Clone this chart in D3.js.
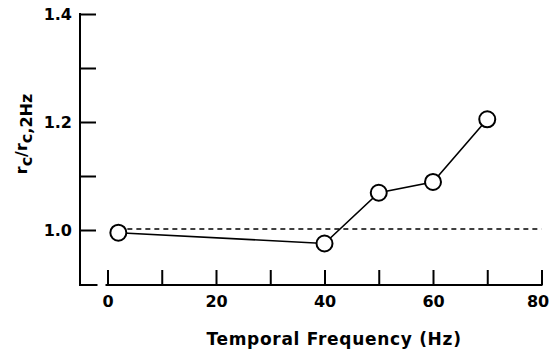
<!DOCTYPE html>
<html>
<head>
<meta charset="utf-8">
<script src="https://cdn.jsdelivr.net/npm/d3@7"></script>
<style>
  html, body { margin: 0; padding: 0; background: #fff; }
  svg { display: block; }
  text { font-family: "DejaVu Sans", sans-serif; font-weight: bold; fill: #000; }
</style>
</head>
<body>
<svg id="chart" width="551" height="354"></svg>
<script>
// ---- data ----
const frequencies = [2, 40, 50, 60, 70];
const ratios = [0.995, 0.975, 1.069, 1.089, 1.205];
const referenceLevel = 1.0;
const xTicks = [0, 10, 20, 30, 40, 50, 60, 70, 80];
const xTickLabels = ["0", "", "20", "", "40", "", "60", "", "80"];
const yTicks = [1.0, 1.1, 1.2, 1.3, 1.4];
const yTickLabels = ["1.0", "", "1.2", "", "1.4"];
const xTitle = "Temporal Frequency (Hz)";

// ---- drawing ----
const svg = d3.select("#chart");
const x = d3.scaleLinear().domain([0, 80]).range([107.5, 541.5]);
const y = d3.scaleLinear().domain([0.9, 1.4]).range([284, 14]);

const yAxisX = 80;
const xAxisY = 285;

// y axis
const yAxis = d3.axisLeft(y)
  .tickValues(yTicks)
  .tickSize(-16)
  .tickPadding(8)
  .tickFormat((d, i) => yTickLabels[i]);
const gy = svg.append("g").attr("transform", `translate(${yAxisX},0)`).call(yAxis);
gy.select(".domain").remove();
gy.selectAll(".tick line").attr("stroke", "#000").attr("stroke-width", 2);
gy.selectAll(".tick text").attr("font-size", 16).attr("font-family", "DejaVu Sans").attr("font-weight", "bold").attr("dy", "0.36em");

svg.append("path")
  .attr("d", `M${yAxisX},${y(1.4) - 1}V${xAxisY}H${x(0) - 10}`)
  .attr("fill", "none").attr("stroke", "#000").attr("stroke-width", 2);

// x axis
const xAxis = d3.axisBottom(x)
  .tickValues(xTicks)
  .tickSize(-15)
  .tickPadding(11)
  .tickFormat((d, i) => xTickLabels[i]);
const gx = svg.append("g").attr("transform", `translate(0,${xAxisY})`).call(xAxis);
gx.select(".domain").remove();
gx.selectAll(".tick line").attr("stroke", "#000").attr("stroke-width", 2);
gx.selectAll(".tick text").attr("font-size", 16).attr("font-family", "DejaVu Sans").attr("font-weight", "bold")
  .attr("dx", (d, i) => i === xTicks.length - 1 ? -4 : 0);

svg.append("line")
  .attr("x1", x(0) - 2).attr("x2", x(80) + 1)
  .attr("y1", xAxisY).attr("y2", xAxisY)
  .attr("stroke", "#000").attr("stroke-width", 2);

// dashed reference line
svg.append("line")
  .attr("x1", x(frequencies[0])).attr("x2", x(80))
  .attr("y1", y(referenceLevel) - 1).attr("y2", y(referenceLevel) - 1)
  .attr("stroke", "#000").attr("stroke-width", 1.4)
  .attr("stroke-dasharray", "5,4");

// data line
const pts = frequencies.map((f, i) => [f, ratios[i]]);
svg.append("path")
  .datum(pts)
  .attr("d", d3.line().x(d => x(d[0])).y(d => y(d[1])))
  .attr("fill", "none").attr("stroke", "#000").attr("stroke-width", 1.6);

svg.selectAll("circle.pt")
  .data(pts)
  .join("circle")
  .attr("class", "pt")
  .attr("cx", d => x(d[0])).attr("cy", d => y(d[1]))
  .attr("r", 8)
  .attr("fill", "#fff").attr("stroke", "#000").attr("stroke-width", 2);

// x title
svg.append("text")
  .attr("x", 334).attr("y", 345)
  .attr("text-anchor", "middle")
  .attr("font-size", 17)
  .attr("letter-spacing", "0.7px")
  .text(xTitle);

// y title
const yt = svg.append("text")
  .attr("transform", "translate(27,134) rotate(-90)")
  .attr("text-anchor", "middle")
  .attr("font-size", 16);
yt.append("tspan").text("r");
yt.append("tspan").attr("dy", 5).text("c");
yt.append("tspan").attr("dy", -5).text("/");
yt.append("tspan").text("r");
yt.append("tspan").attr("dy", 5).text("c,2Hz");
</script>
</body>
</html>
